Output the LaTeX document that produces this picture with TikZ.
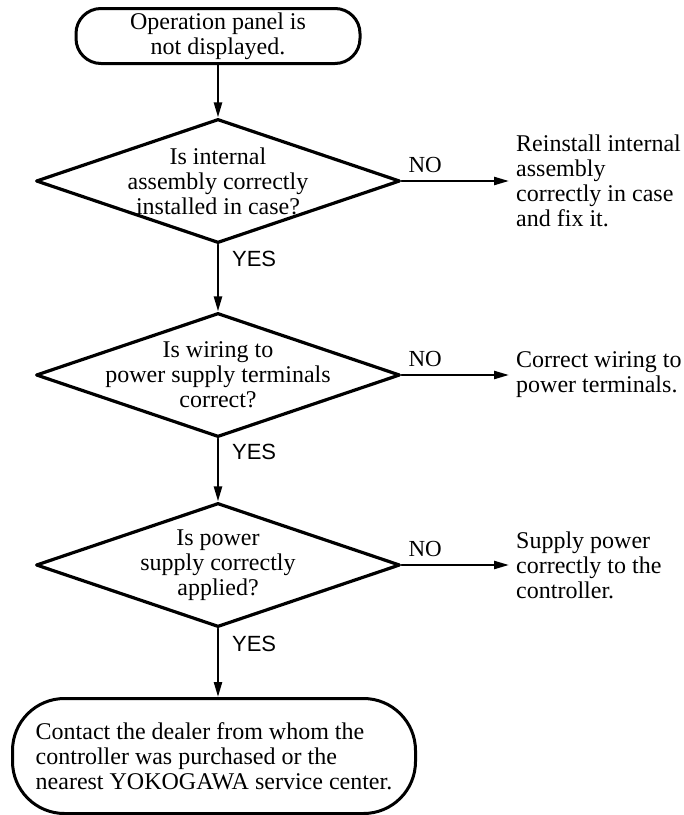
\documentclass[tikz,border=0pt]{standalone}
\usepackage{fontspec}
\setmainfont{Liberation Serif}
\newfontfamily\answerfont{Liberation Sans}
\usetikzlibrary{shapes.geometric,arrows.meta}

\begin{document}
\begin{tikzpicture}[
    x=1pt,
    y=-1pt,
    line cap=round,
    line join=round,
    terminal/.style={
        draw,
        line width=3pt,
        rectangle,
        rounded corners=25pt,
        align=center,
        inner sep=2pt
    },
    decision/.style={
        draw,
        line width=3.2pt,
        diamond,
        minimum width=364pt,
        minimum height=124pt,
        inner sep=0pt
    },
    question/.style={
        align=center,
        inner sep=0pt
    },
    remedy/.style={
        anchor=west,
        align=left,
        inner xsep=7pt,
        inner ysep=0pt
    },
    flow/.style={
        line width=2.3pt,
        -{Triangle[length=15pt,width=8pt]}
    },
    yeslabel/.style={
        font=\answerfont\fontsize{22}{24}\selectfont
    },
    nolabel/.style={
        font=\fontsize{23}{24}\selectfont
    },
    every node/.style={
        font=\fontsize{24}{25}\selectfont
    }
]

\useasboundingbox (0,0) rectangle (684,815);

% =================================================
% Start and end
% =================================================

\node[terminal, minimum width=284pt, minimum height=55pt] (start) at (218,36)
    {Operation panel is\\not displayed.};

\node[terminal, rounded corners=52pt, align=left,
      minimum width=403pt, minimum height=115pt] (stop) at (214,756)
    {Contact the dealer from whom the\\
     controller was purchased or the\\
     nearest YOKOGAWA service center.};

% =================================================
% Checks
% =================================================

\node[decision] (q1) at (218,181) {};
\node[question] at (q1) {Is internal\\assembly correctly\\installed in case?};

\node[decision] (q2) at (218,375) {};
\node[question] at (q2) {Is wiring to\\power supply terminals\\correct?};

\node[decision] (q3) at (218,565) {};
\node[question] at (q3) {Is power\\supply correctly\\applied?};

% =================================================
% Remedies
% =================================================

\node[remedy] (fix1) at (509,181)
    {Reinstall internal\\assembly\\correctly in case\\and fix it.};
\node[remedy] (fix2) at (509,375)
    {Correct wiring to\\power terminals.};
\node[remedy] (fix3) at (509,565)
    {Supply power\\correctly to the\\controller.};

% =================================================
% Flow
% =================================================

\draw[flow] (start) -- (q1.north);

\draw[flow] (q1.south) -- node[yeslabel, pos=0.22, right, inner xsep=13pt] {YES} (q2.north);
\draw[flow] (q2.south) -- node[yeslabel, pos=0.22, right, inner xsep=13pt] {YES} (q3.north);
\draw[flow] (q3.south) -- node[yeslabel, pos=0.22, right, inner xsep=13pt] {YES} (q3.south |- stop.north);

\draw[flow] (q1.east) -- node[nolabel, pos=0.22, above, inner ysep=7pt] {NO} (fix1.west);
\draw[flow] (q2.east) -- node[nolabel, pos=0.22, above, inner ysep=7pt] {NO} (fix2.west);
\draw[flow] (q3.east) -- node[nolabel, pos=0.22, above, inner ysep=7pt] {NO} (fix3.west);

\end{tikzpicture}
\end{document}
